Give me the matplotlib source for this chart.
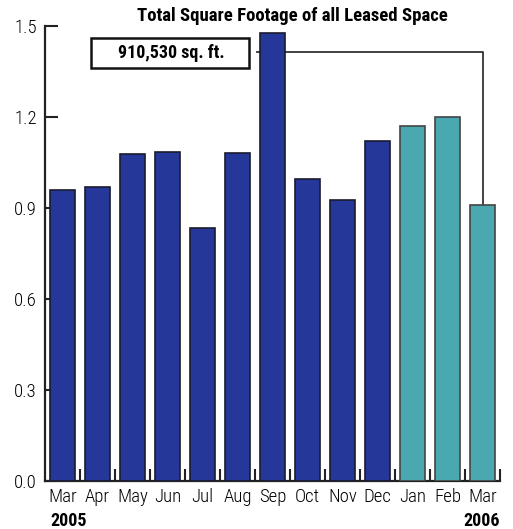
import matplotlib
matplotlib.use("Agg")
import matplotlib.pyplot as plt
from matplotlib.patches import Rectangle

months = ["Mar", "Apr", "May", "Jun", "Jul", "Aug", "Sep", "Oct", "Nov", "Dec", "Jan", "Feb", "Mar"]
values = [0.959, 0.969, 1.078, 1.085, 0.834, 1.081, 1.478, 0.995, 0.926, 1.120, 1.171, 1.199, 0.910]
is_2006 = [False] * 10 + [True] * 3
yticks = [0.0, 0.3, 0.6, 0.9, 1.2, 1.5]
title = "Total Square Footage of all Leased Space"
callout = "910,530 sq. ft."
callout_line_y = 1.414

plt.rcParams["font.family"] = ["Roboto Condensed", "DejaVu Sans"]

blue = "#25389a"
teal = "#4aa9b0"

fig = plt.figure(figsize=(5.13, 5.29), dpi=100)
ax = fig.add_axes([45/513, 1-481/529, 455/513, (481-26)/529])
x = list(range(len(months)))
colors = [teal if t else blue for t in is_2006]
edges = ["#444444" if t else "#1a1a2e" for t in is_2006]
ax.bar(x, values, width=0.74, color=colors, edgecolor=edges, linewidth=1.2, zorder=3)

ax.set_xlim(-0.5, len(months) - 0.5)
ax.set_ylim(0, 1.5)
for s in ["top", "right"]:
    ax.spines[s].set_visible(False)
for s in ["left", "bottom"]:
    ax.spines[s].set_linewidth(1.6)
    ax.spines[s].set_color("#222222")

ax.set_yticks(yticks)
ax.set_yticklabels([f"{v:.1f}" for v in yticks], fontsize=13.5, fontweight="light")
ax.tick_params(axis="y", direction="in", length=9, width=1.5, pad=6, color="#222222")
ax.set_xticks(x)
ax.set_xticklabels(months, fontsize=13.5, fontweight="light")
ax.tick_params(axis="x", length=0, pad=5)
ax.set_xticks([i + 0.5 for i in x], minor=True)
ax.tick_params(axis="x", which="minor", direction="in", length=9, width=1.5, color="#222222")

# callout
last = len(months) - 1
ax.plot([5.57, last, last], [callout_line_y, callout_line_y, values[last]],
        color="#333333", linewidth=1.3, zorder=2, clip_on=False)
ax.add_patch(Rectangle((0.814, 1.362), 5.329 - 0.814, 1.461 - 1.362, facecolor="white",
                       edgecolor="#111111", linewidth=1.8, zorder=4))
ax.text(3.1, 1.411, callout, ha="center", va="center", fontsize=13,
        fontweight="bold", zorder=5)

fig.text(292/513, 1-16/529, title, ha="center", va="center", fontsize=13.5, fontweight="bold")
fig.text(50/513, 1-521/529, "2005", ha="left", va="center", fontsize=13, fontweight="bold")
fig.text(500/513, 1-521/529, "2006", ha="right", va="center", fontsize=13, fontweight="bold")

fig.savefig("out.png", dpi=100)
